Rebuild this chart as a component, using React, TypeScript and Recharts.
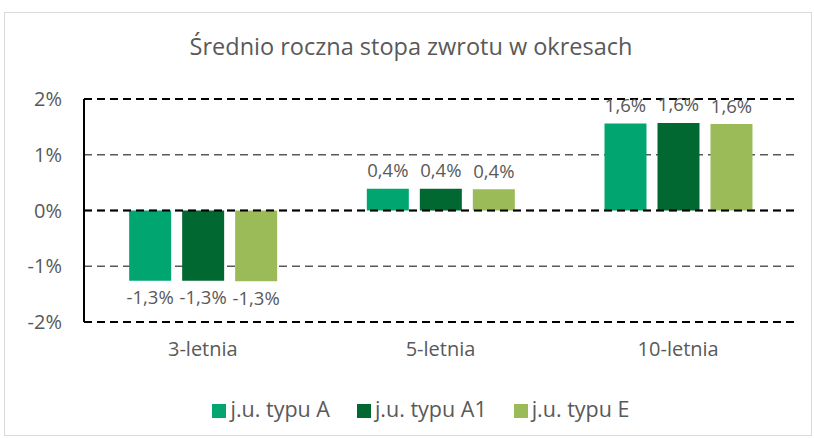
import React from "react";
import {
  Bar,
  BarChart,
  CartesianGrid,
  LabelList,
  Legend,
  ReferenceLine,
  XAxis,
  YAxis,
} from "recharts";

const CATEGORIES = ["3-letnia", "5-letnia", "10-letnia"];
const TYPU_A = [-1.26, 0.39, 1.56];
const TYPU_A1 = [-1.26, 0.39, 1.57];
const TYPU_E = [-1.27, 0.38, 1.55];
const Y_TICKS = [-2, -1, 0, 1, 2];

const SERIES = [
  { key: "a", name: "j.u. typu A", color: "#00A570", values: TYPU_A },
  { key: "a1", name: "j.u. typu A1", color: "#006830", values: TYPU_A1 },
  { key: "e", name: "j.u. typu E", color: "#9BBB59", values: TYPU_E },
];

const data = CATEGORIES.map((cat, i) => {
  const row: Record<string, string | number> = { cat };
  SERIES.forEach((s) => {
    row[s.key] = s.values[i];
  });
  return row;
});

const FONT = "'Open Sans', sans-serif";
const TEXT = "#595959";

const fmt = (v: number) => v.toFixed(1).replace(".", ",") + "%";

function ValueLabel(props: any) {
  const { x, y, width, height, value } = props;
  const top = Math.min(y, y + height);
  const bottom = Math.max(y, y + height);
  const cx = x + width / 2;
  const ty = value < 0 ? bottom + 16 : top - 19;
  return (
    <text
      x={cx}
      y={ty}
      textAnchor="middle"
      dominantBaseline="central"
      fill={TEXT}
      fontSize={18.5}
      fontFamily={FONT}
    >
      {fmt(value)}
    </text>
  );
}

export default function App() {
  return (
    <div
      style={{
        position: "absolute",
        left: 0,
        top: 0,
        width: 814,
        height: 438,
        background: "#fff",
      }}
    >
      <div
        style={{
          position: "absolute",
          left: 4,
          top: 12,
          width: 808,
          height: 424,
          border: "1px solid #d9d9d9",
          boxSizing: "border-box",
        }}
      />
      <div
        style={{
          position: "absolute",
          left: 0,
          top: 30,
          width: 822,
          textAlign: "center",
          fontFamily: FONT,
          fontSize: 23.5,
          color: TEXT,
        }}
      >
        Średnio roczna stopa zwrotu w okresach
      </div>
      <div style={{ position: "absolute", left: 0, top: 0 }}>
        <BarChart
          width={814}
          height={438}
          data={data}
          margin={{ top: 99, right: 17, bottom: 57, left: 0 }}
          barCategoryGap="19%"
          barGap={11}
        >
          <CartesianGrid
            vertical={false}
            stroke="#595959"
            strokeWidth={1.5}
            strokeDasharray="8 5"
          />
          <XAxis
            dataKey="cat"
            height={30}
            axisLine={false}
            tickLine={false}
            tickSize={0}
            tickMargin={20}
            tick={{ fill: TEXT, fontSize: 20, fontFamily: FONT }}
          />
          <YAxis
            width={84}
            domain={[-2, 2]}
            ticks={Y_TICKS}
            tickFormatter={(v: number) => `${v}%`}
            axisLine={{ stroke: "#000", strokeWidth: 2 }}
            tickLine={false}
            tickSize={0}
            tickMargin={22}
            tick={{ fill: TEXT, fontSize: 20, fontFamily: FONT }}
          />
          <ReferenceLine y={2} stroke="#000" strokeWidth={2} strokeDasharray="8 5" />
          <ReferenceLine y={-2} stroke="#000" strokeWidth={2} strokeDasharray="8 5" />
          {SERIES.map((s) => (
            <Bar
              key={s.key}
              dataKey={s.key}
              name={s.name}
              fill={s.color}
              isAnimationActive={false}
            >
              <LabelList dataKey={s.key} content={ValueLabel} />
            </Bar>
          ))}
          <ReferenceLine y={0} stroke="#000" strokeWidth={2} strokeDasharray="8 5" />
          <Legend
            verticalAlign="bottom"
            iconType="square"
            iconSize={14}
            wrapperStyle={{ bottom: 15, left: 36, fontFamily: FONT, fontSize: 21.5 }}
            formatter={(value: string) => (
              <span style={{ color: TEXT, marginRight: 17 }}>{value}</span>
            )}
          />
        </BarChart>
      </div>
    </div>
  );
}
